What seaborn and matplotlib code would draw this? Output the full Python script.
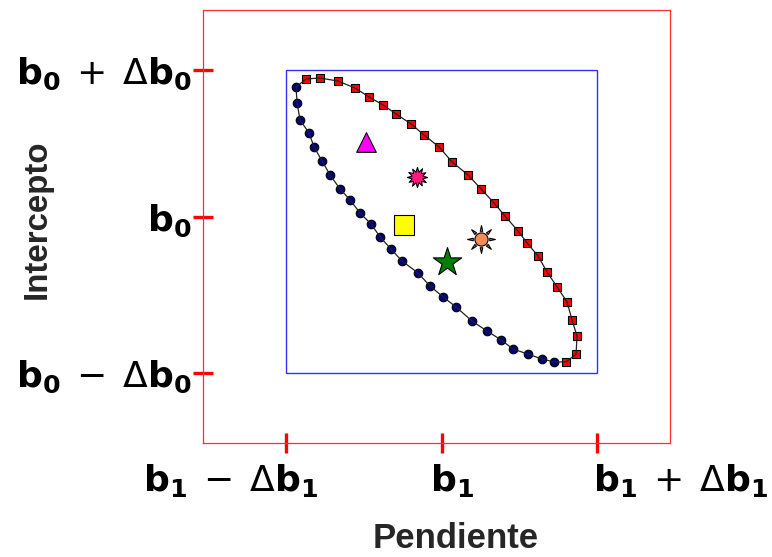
import numpy as np
import pandas as pd
import matplotlib
matplotlib.use("Agg")
import matplotlib.pyplot as plt
from matplotlib.path import Path
from matplotlib.patches import Rectangle
from matplotlib.transforms import ScaledTranslation
import seaborn as sns

# Lower branch of the joint confidence region (navy circles), top-left to bottom-right
lower_slope = [-0.936, -0.929, -0.910, -0.852, -0.820, -0.768, -0.717, -0.653, -0.588,
               -0.524, -0.453, -0.395, -0.325, -0.254, -0.151, -0.074, 0.010, 0.093,
               0.196, 0.293, 0.383, 0.460, 0.556, 0.646, 0.723]
lower_icpt = [0.888, 0.782, 0.670, 0.584, 0.492, 0.399, 0.307, 0.215, 0.142,
              0.056, -0.017, -0.102, -0.182, -0.261, -0.340, -0.426, -0.498, -0.564,
              -0.657, -0.723, -0.782, -0.842, -0.875, -0.908, -0.927]

# Upper branch (red squares), top-left to bottom-right
upper_slope = [-0.871, -0.781, -0.666, -0.556, -0.466, -0.376, -0.293, -0.196, -0.113,
               -0.016, 0.068, 0.170, 0.254, 0.338, 0.408, 0.492, 0.550, 0.621,
               0.678, 0.743, 0.807, 0.839, 0.871, 0.865, 0.801]
upper_icpt = [0.941, 0.947, 0.927, 0.881, 0.822, 0.769, 0.710, 0.644, 0.571,
              0.492, 0.393, 0.307, 0.215, 0.122, 0.036, -0.063, -0.142, -0.228,
              -0.333, -0.432, -0.531, -0.650, -0.756, -0.875, -0.927]

# Individual estimates inside the region
point_names = ["triangulo", "explosion", "cuadrado", "estrella", "sol"]
point_slope = [-0.486, -0.158, -0.241, 0.035, 0.254]
point_icpt = [0.525, 0.294, -0.023, -0.267, -0.116]

# Axis ticks
x_ticks = [-1.0, 0.0, 1.0]
x_labels = [r"$\mathbf{b_1}\;\,\mathsf{-}\;\,\mathsf{\Delta}\mathbf{b_1}$", r"$\mathbf{b_1}$",
            r"$\mathbf{b_1}\;\,\mathsf{+}\;\,\mathsf{\Delta}\mathbf{b_1}$"]
y_ticks = [-1.0, 0.03, 1.0]
y_labels = [r"$\mathbf{b_0}\;\,\mathsf{-}\;\,\mathsf{\Delta}\mathbf{b_0}$", r"$\mathbf{b_0}$",
            r"$\mathbf{b_0}\;\,\mathsf{+}\;\,\mathsf{\Delta}\mathbf{b_0}$"]

sns.set_style("white")
plt.rcParams["font.family"] = ["Liberation Sans", "DejaVu Sans"]
plt.rcParams["mathtext.fontset"] = "custom"
plt.rcParams["mathtext.rm"] = "DejaVu Sans"
plt.rcParams["mathtext.sf"] = "DejaVu Sans"
plt.rcParams["mathtext.bf"] = "DejaVu Sans:bold"
plt.rcParams["mathtext.it"] = "DejaVu Sans:italic"

fig = plt.figure(figsize=(7.72, 5.57), dpi=100)
ax = fig.add_axes([203 / 772, 114 / 557, 467 / 772, 433 / 557])

# closed outline: down the lower branch, back up the upper branch
loop = pd.DataFrame({
    "pendiente": lower_slope + upper_slope[::-1] + lower_slope[:1],
    "intercepto": lower_icpt + upper_icpt[::-1] + lower_icpt[:1],
})
sns.lineplot(data=loop, x="pendiente", y="intercepto", sort=False, estimator=None,
             color="#222222", linewidth=0.9, zorder=3, ax=ax)

sns.scatterplot(x=lower_slope, y=lower_icpt, marker="o", s=38, color="#000080",
                edgecolor="black", linewidth=0.8, zorder=2, ax=ax)
sns.scatterplot(x=upper_slope, y=upper_icpt, marker="s", s=30, color="#ff0000",
                edgecolor="black", linewidth=0.8, zorder=2, ax=ax)

# custom marker shapes
ang = np.linspace(0, 2 * np.pi, 24, endpoint=False) + np.pi / 2
rad = np.where(np.arange(24) % 2 == 0, [1.0, 0.8, 0.95, 0.75, 1.0, 0.85] * 4, 0.55)
burst_xy = np.column_stack([rad * np.cos(ang), rad * np.sin(ang)])
burst = Path(np.vstack([burst_xy, burst_xy[:1]]),
             [Path.MOVETO] + [Path.LINETO] * 23 + [Path.CLOSEPOLY])

verts, codes = [], []
for k in range(8):
    a = np.pi / 2 + k * np.pi / 4
    verts += [(np.cos(a), np.sin(a)),
              (0.6 * np.cos(a - 0.15), 0.6 * np.sin(a - 0.15)),
              (0.6 * np.cos(a + 0.15), 0.6 * np.sin(a + 0.15)),
              (0, 0)]
    codes += [Path.MOVETO, Path.LINETO, Path.LINETO, Path.CLOSEPOLY]
rays = Path(verts, codes)

styles = {
    "triangulo": [dict(marker="^", s=200, color="#ff00ff")],
    "explosion": [dict(marker=burst, s=210, color="#ff1a80")],
    "cuadrado": [dict(marker="s", s=200, color="#ffff00")],
    "estrella": [dict(marker="*", s=460, color="#008000")],
    "sol": [dict(marker=rays, s=400, color="#f98c55"),
            dict(marker="o", s=90, color="#f98c55")],
}
for name, px, py in zip(point_names, point_slope, point_icpt):
    for st in styles[name]:
        sns.scatterplot(x=[px], y=[py], edgecolor="black", linewidth=0.8,
                        zorder=4, ax=ax, **st)

ax.add_patch(Rectangle((-1, -1), 2, 2, fill=False, edgecolor="#3030ff",
                       linewidth=1.0, zorder=1))

ax.set_xlim(-1.534, 1.469)
ax.set_ylim(-1.462, 1.396)
ax.set_xticks(x_ticks)
ax.set_xticklabels(x_labels, fontsize=26)
ax.set_yticks(y_ticks)
ax.set_yticklabels(y_labels, fontsize=26)
ax.tick_params(axis="both", bottom=True, left=True, direction="inout", length=14,
               width=2.4, color="#ff0000", labelcolor="black")
ax.tick_params(axis="x", pad=7)
ax.tick_params(axis="y", pad=1)

# horizontal placement of the slope labels (pixels relative to their ticks)
for lbl, dx in zip(ax.get_xticklabels(), [-55, 10, 84]):
    lbl.set_transform(lbl.get_transform() + ScaledTranslation(dx / 100, 0, fig.dpi_scale_trans))

for sp in ax.spines.values():
    sp.set_color("#ff3030")
    sp.set_linewidth(0.9)
    sp.set_visible(True)

ax.set_xlabel("Pendiente", fontsize=25, fontweight="bold")
ax.set_ylabel("Intercepto", fontsize=23.8, fontweight="bold")
ax.xaxis.set_label_coords(0.542, -0.182)
ax.yaxis.set_label_coords(-0.321, 0.517)

fig.savefig("out.png", dpi=100)
